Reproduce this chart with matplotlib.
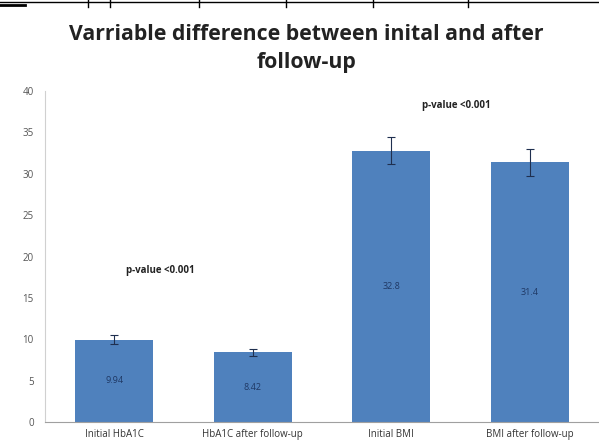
import matplotlib.pyplot as plt
from matplotlib.lines import Line2D

categories = ["Initial HbA1C", "HbA1C after follow-up", "Initial BMI", "BMI after follow-up"]
values = [9.94, 8.42, 32.8, 31.4]
errors = [0.55, 0.45, 1.6, 1.65]
value_labels = ["9.94", "8.42", "32.8", "31.4"]
yticks = [0, 5, 10, 15, 20, 25, 30, 35, 40]

plt.rcParams['font.family'] = ['Open Sans', 'DejaVu Sans']

fig = plt.figure(figsize=(5.99, 4.47), dpi=100)
ax = fig.add_axes([0.0751, 0.0559, 0.9249, 0.7405])

x = range(len(categories))
ax.bar(x, values, width=0.56, color='#4F81BD', zorder=2)
ax.errorbar(x, values, yerr=errors, fmt='none', ecolor='#1F2F4F',
            elinewidth=0.8, capsize=3, capthick=0.8, zorder=3)

# labels in middle of bars
for i, v in enumerate(values):
    ax.text(i, v / 2, value_labels[i], ha='center', va='center',
            fontsize=6.5, color='#1F3864')

ax.text(0.33, 18.3, "p-value <0.001", ha='center', va='center',
        fontsize=7, fontweight='bold', color='#222222')
ax.text(2.47, 38.2, "p-value <0.001", ha='center', va='center',
        fontsize=7, fontweight='bold', color='#222222')

ax.set_xlim(-0.5, 3.5)
ax.set_ylim(0, 40)
ax.set_yticks(yticks)
ax.set_xticks(list(x))
ax.set_xticklabels(categories)
ax.tick_params(axis='y', labelsize=7, labelcolor='#555555', length=0, pad=8)
ax.tick_params(axis='x', labelsize=7, labelcolor='#333333', length=0, pad=5)

for s in ['top', 'right']:
    ax.spines[s].set_visible(False)
ax.spines['left'].set_color('#D0D0D0')
ax.spines['bottom'].set_color('#A0A0A0')

fig.text(0.512, 0.891, "Varriable difference between inital and after\nfollow-up",
         ha='center', va='center', fontsize=15.3, fontweight='bold',
         color='#222222', linespacing=1.45)

# cropped table border along the top edge
fig.add_artist(Line2D([0, 1], [0.995, 0.995], color='black', lw=1))
for px in [88, 110, 199, 286, 373, 468]:
    fig.add_artist(Line2D([px / 599, px / 599], [0.985, 1.0], color='black', lw=1))
fig.add_artist(Line2D([0, 25 / 599], [0.988, 0.988], color='black', lw=2))

fig.savefig("out.png", dpi=100)
